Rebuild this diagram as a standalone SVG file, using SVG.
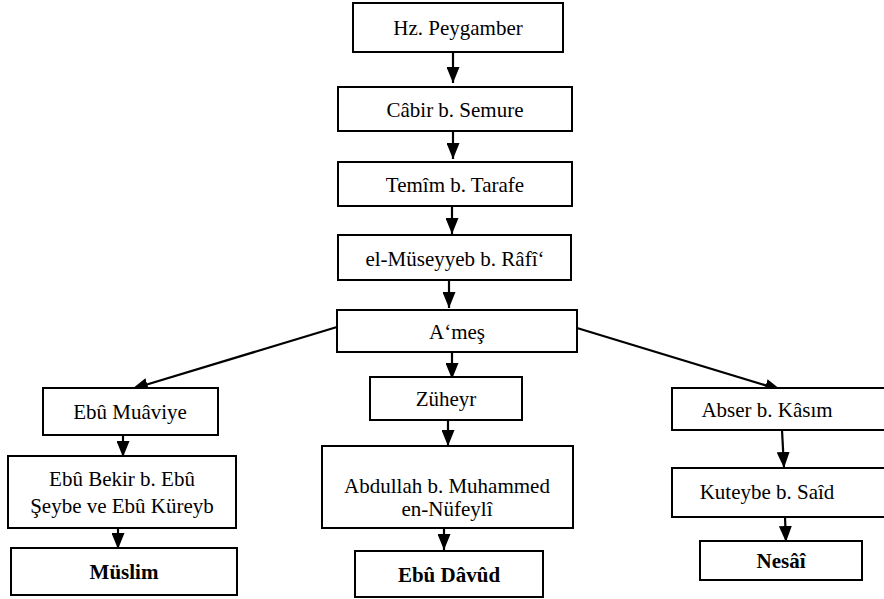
<svg xmlns="http://www.w3.org/2000/svg" width="884" height="599" viewBox="0 0 884 599">
<style>
rect{fill:#fff;stroke:#000;stroke-width:2}
text{font-family:'Liberation Serif',serif;font-size:21px;fill:#000;text-anchor:middle}
.b{font-weight:bold}
.c line{stroke:#000;stroke-width:2.2;marker-end:url(#ah)}
</style>
<defs>
<marker id="ah" markerUnits="userSpaceOnUse" markerWidth="16" markerHeight="13" viewBox="0 0 16 13" refX="16" refY="6.5" orient="auto">
<path d="M0,0 L16,6.5 L0,13 z" fill="#000"/>
</marker>
</defs>
<rect x="0" y="0" width="884" height="599" style="stroke:none"/>
<g class="c">
<line x1="453" y1="52" x2="453" y2="83"/>
<line x1="453" y1="131" x2="453" y2="159"/>
<line x1="452" y1="206" x2="452" y2="234"/>
<line x1="449" y1="280" x2="449" y2="308"/>
<line x1="337" y1="327" x2="132" y2="389"/>
<line x1="577" y1="328" x2="781" y2="390"/>
<line x1="452" y1="352" x2="452" y2="379"/>
<line x1="448" y1="420" x2="448" y2="446"/>
<line x1="444" y1="528" x2="444" y2="550"/>
<line x1="123" y1="435" x2="123" y2="457"/>
<line x1="118" y1="528" x2="118" y2="549"/>
<line x1="782" y1="430" x2="784" y2="468"/>
<line x1="785" y1="517" x2="786" y2="542"/>
</g>
<g id="n1"><rect x="353" y="3" width="210" height="49"/><text x="458" y="35">Hz. Peygamber</text></g>
<g id="n2"><rect x="338" y="87" width="234" height="44"/><text x="455" y="117">Câbir b. Semure</text></g>
<g id="n3"><rect x="338" y="162" width="234" height="44"/><text x="455" y="192">Temîm b. Tarafe</text></g>
<g id="n4"><rect x="338" y="235" width="233" height="45"/><text x="455" y="266">el-Müseyyeb b. Râfî‘</text></g>
<g id="n5"><rect x="337" y="310" width="240" height="42"/><text x="457" y="339">A‘meş</text></g>
<g id="n6"><rect x="43" y="388" width="175" height="47"/><text x="130" y="419">Ebû Muâviye</text></g>
<g id="n7"><rect x="8" y="456" width="228" height="72"/><text x="122" y="486">Ebû Bekir b. Ebû</text><text x="122" y="513">Şeybe ve Ebû Küreyb</text></g>
<g id="n8"><rect x="11" y="548" width="226" height="47"/><text class="b" x="124" y="579">Müslim</text></g>
<g id="n9"><rect x="370" y="377" width="152" height="43"/><text x="446" y="406">Züheyr</text></g>
<g id="n10"><rect x="322" y="446" width="251" height="82"/><text x="447" y="493">Abdullah b. Muhammed</text><text x="447" y="516">en-Nüfeylî</text></g>
<g id="n11"><rect x="355" y="551" width="188" height="46"/><text class="b" x="449" y="582">Ebû Dâvûd</text></g>
<g id="n12"><rect x="672" y="388" width="220" height="42"/><text x="767" y="417">Abser b. Kâsım</text></g>
<g id="n13"><rect x="672" y="468" width="220" height="49"/><text x="767" y="499">Kuteybe b. Saîd</text></g>
<g id="n14"><rect x="700" y="541" width="162" height="39"/><text class="b" x="781" y="568">Nesâî</text></g>
</svg>
